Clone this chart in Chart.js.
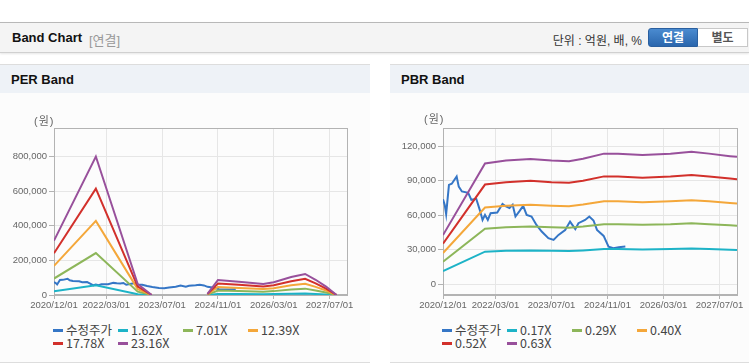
<!DOCTYPE html>
<html>
<head>
<meta charset="utf-8">
<script src="https://cdn.jsdelivr.net/npm/chart.js@4.4.0/dist/chart.umd.min.js"></script>
<style>
body{margin:0;width:749px;height:364px;position:relative;background:#fff;overflow:hidden;font-family:"Liberation Sans","Noto Sans CJK KR",sans-serif;color:#333}
.hdr{position:absolute;left:0;top:22px;width:749px;height:29px;background:#f4f4f4;border-top:1px solid #b8b8b8;border-bottom:1px solid #d0d0d0;box-shadow:0 1px 2px rgba(0,0,0,.10)}
.hdr .t{position:absolute;left:12px;top:7px;font-size:13px;font-weight:bold;color:#111}
.hdr .s{position:absolute;left:89px;top:7px;font-size:13px;color:#999}
.hdr .u{position:absolute;right:107px;top:8px;font-size:12px;color:#333}
.btn{position:absolute;top:5px;height:19px;width:50px;font-size:12px;font-weight:bold;text-align:center;line-height:19px;box-sizing:border-box}
.b1{left:648px;background:linear-gradient(#4a8bd0,#2a66ad);color:#fff;border:1px solid #2a5f9f;border-radius:3px 0 0 3px}
.b2{left:698px;width:50px;background:#fff;color:#555;border:1px solid #c8c8c8;border-left:none}
.panel{position:absolute;top:64px;height:297px;border-top:1px solid #ddd;border-bottom:1px solid #ddd;background:#fcfcfc}
.panel .bar{height:28px;background:#eef2f7;font-size:13px;font-weight:bold;color:#111;line-height:29px;padding-left:11px}
.unit{position:absolute;font-size:11px;color:#666;z-index:2;letter-spacing:1px}
canvas{position:absolute}
.lg{position:absolute;width:270px;height:30px}
.li{position:absolute;font-size:12.5px;color:#444;white-space:nowrap;line-height:14px;font-family:"Noto Sans CJK KR","Liberation Sans",sans-serif}
.li i{display:inline-block;width:10px;height:3px;margin-right:3px;vertical-align:middle;position:relative;top:-1px}
</style>
</head>
<body>
<div class="hdr">
  <span class="t">Band Chart</span><span class="s">[연결]</span>
  <span class="u">단위 : 억원, 배, %</span>
  <div class="btn b1">연결</div><div class="btn b2">별도</div>
</div>
<div class="panel" style="left:0;width:370px"><div class="bar">PER Band</div></div>
<div class="panel" style="left:390px;width:359px"><div class="bar">PBR Band</div></div>
<canvas id="perChart" width="370" height="225" style="left:0;top:92px"></canvas>
<canvas id="pbrChart" width="359" height="225" style="left:390px;top:92px"></canvas>
<div class="unit" style="left:34px;top:112px">(원)</div>
<div class="unit" style="left:424px;top:110px">(원)</div>
<div class="lg" id="perLegend" style="left:53px;top:323px"></div>
<div class="lg" id="pbrLegend" style="left:442px;top:323px"></div>
<script>
// x axis
const xTickLabels = ['2020/12/01','2022/03/01','2023/07/01','2024/11/01','2026/03/01','2027/07/01']
const xFirst = '2020/12/01'
const xLast = '2027/12/01'

// adjusted price (수정주가)
const priceDates = ['2020/12/01','2020/12/16','2020/12/28','2021/01/22','2021/02/16','2021/03/28','2021/04/16','2021/05/13',
  '2021/07/07','2021/08/04','2021/09/16','2021/10/16','2021/11/10','2021/12/01','2021/12/25','2022/01/19','2022/03/16',
  '2022/05/01','2022/06/01','2022/07/01','2022/07/28','2022/08/22','2022/09/25','2022/10/28','2022/11/28',
  '2023/01/10','2023/02/22','2023/04/07','2023/06/04','2023/07/19','2023/09/01','2023/10/28','2023/12/10',
  '2024/01/25','2024/02/22','2024/04/19','2024/05/25','2024/07/01','2024/08/01','2024/09/28','2024/11/10',
  '2024/12/22','2025/02/07','2025/04/04']
const priceValues = [74000,69000,61000,86500,87500,93800,85000,80800,
  79600,73500,74400,64800,56000,60400,56000,61900,62500,
  70000,67700,66400,69200,59000,63500,68300,60400,
  59000,51700,45900,40100,38600,43000,47300,54600,
  48000,53200,56000,59000,55500,47300,42100,32800,
  31400,32200,32800]

// PER band
const perNames = ['수정주가','1.62X','7.01X','12.39X','17.78X','23.16X']
const perBandDates = ['2020/12/01','2021/12/01','2022/12/01','2023/04/01','2023/05/01',
  '2024/08/01','2024/11/01','2025/05/01','2025/12/01','2026/03/01','2026/08/01','2026/12/01','2027/03/01','2027/06/01','2027/09/01']
const per162 = [22000,56000,4500,0,null, 500,6100,5300,4500,5200,7300,8500,6200,3400,0]
const per701 = [95100,242100,19300,0,null, 2100,26300,23100,19300,22400,31500,36800,26600,14700,0]
const per1239 = [168000,428000,34100,0,null, 3700,46500,40900,34100,39600,55800,65000,47100,26000,0]
const per1778 = [241100,614100,48900,0,null, 5300,66700,58700,48900,56900,80000,93300,67600,37300,0]
const per2316 = [314000,800000,63700,0,null, 6900,86900,76400,63700,74100,104200,121600,88000,48600,0]
const perYTicks = [0,200000,400000,600000,800000]

// PBR band
const pbrNames = ['수정주가','0.17X','0.29X','0.40X','0.52X','0.63X']
const pbrBandDates = ['2020/12/01','2021/12/01','2022/06/01','2023/01/01','2023/07/01','2023/12/01','2024/04/01',
  '2024/10/01','2025/02/01','2025/09/01','2026/05/01','2026/11/01','2027/04/01','2027/10/01','2027/12/01']
const pbr017 = [11600,28400,29100,29400,29100,28900,29500,30700,30700,30300,30700,31100,30700,30100,29900]
const pbr029 = [19700,48400,49600,50200,49600,49300,50300,52300,52300,51800,52300,53100,52300,51300,51000]
const pbr040 = [27200,66800,68400,69200,68400,68000,69400,72200,72200,71400,72200,73200,72200,70800,70400]
const pbr052 = [35400,86800,88900,90000,88900,88400,90200,93900,93900,92800,93900,95200,93900,92000,91500]
const pbr063 = [42800,105200,107700,109000,107700,107100,109300,113700,113700,112500,113700,115300,113700,111500,110900]
const pbrYTicks = [0,30000,60000,90000,120000]

const colors = ['#3576c6','#1db3c7','#8db65a','#f4a73a','#d2302b','#98509b']
const tickFont = {family: '"Liberation Sans", "Noto Sans CJK KR", sans-serif', size: 9.5}

const monthIndex = d => {
    const p = d.split('/')
    return (+p[0] - 2020) * 12 + (+p[1] - 12) + (+p[2] - 1) / 30
}
const pts = (dates, vals) => dates.map((d, i) => ({x: monthIndex(d), y: vals[i]}))

// box around plot area
const frame = {
    id: 'frame',
    beforeDatasetsDraw(chart) {
        const a = chart.chartArea, ctx = chart.ctx
        ctx.save()
        ctx.strokeStyle = '#b3b3b3'
        ctx.lineWidth = 1
        ctx.strokeRect(Math.round(a.left) + 0.5, Math.round(a.top) + 0.5, Math.round(a.right) - Math.round(a.left), Math.round(a.bottom) - Math.round(a.top) - 1)
        ctx.restore()
    }
}

const makeChart = (id, names, series, yTicks, yMin, yMax, yWidth, padRight) => {
    const datasets = series.map((s, i) => ({
        label: names[i],
        data: pts(s.dates, s.values),
        borderColor: colors[i],
        backgroundColor: colors[i],
        borderWidth: 2,
        pointRadius: 0,
        tension: 0,
        order: -i,
    }))
    return new Chart(document.getElementById(id), {
        type: 'line',
        data: {datasets},
        plugins: [frame],
        options: {
            responsive: false,
            animation: false,
            events: [],
            layout: {padding: {top: 36, right: padRight, bottom: 0, left: 0}},
            plugins: {legend: {display: false}, tooltip: {enabled: false}},
            scales: {
                x: {
                    type: 'linear',
                    min: monthIndex(xFirst),
                    max: monthIndex(xLast),
                    afterBuildTicks: s => { s.ticks = xTickLabels.map(l => ({value: monthIndex(l)})) },
                    afterFit: s => { s.height = 22 },
                    ticks: {
                        font: tickFont, color: '#666', padding: 1, maxRotation: 0, autoSkip: false,
                        callback: v => xTickLabels.find(l => monthIndex(l) === v)
                    },
                    grid: {color: '#e6e6e6', tickColor: '#b3b3b3', tickLength: 4},
                    border: {color: '#b3b3b3'}
                },
                y: {
                    min: yMin,
                    max: yMax,
                    afterBuildTicks: s => { s.ticks = yTicks.map(v => ({value: v})) },
                    afterFit: s => { s.width = yWidth },
                    ticks: {font: tickFont, color: '#666', padding: 2, callback: v => v.toLocaleString('en-US')},
                    grid: {color: '#e6e6e6', tickColor: '#b3b3b3', tickLength: 5},
                    border: {color: '#b3b3b3'}
                }
            }
        }
    })
}

const htmlLegend = (chart, el) => {
    chart.data.datasets.forEach((ds, i) => {
        const item = document.createElement('div')
        item.className = 'li'
        item.style.left = (i % 4) * 65 + 'px'
        item.style.top = Math.floor(i / 4) * 13 + 'px'
        item.innerHTML = '<i style="background:' + ds.borderColor + '"></i>' + ds.label
        el.appendChild(item)
    })
}

const perChart = makeChart('perChart', perNames, [
    {dates: priceDates, values: priceValues},
    {dates: perBandDates, values: per162},
    {dates: perBandDates, values: per701},
    {dates: perBandDates, values: per1239},
    {dates: perBandDates, values: per1778},
    {dates: perBandDates, values: per2316},
], perYTicks, 0, 965000, 54, 23)

const pbrChart = makeChart('pbrChart', pbrNames, [
    {dates: priceDates, values: priceValues},
    {dates: pbrBandDates, values: pbr017},
    {dates: pbrBandDates, values: pbr029},
    {dates: pbrBandDates, values: pbr040},
    {dates: pbrBandDates, values: pbr052},
    {dates: pbrBandDates, values: pbr063},
], pbrYTicks, -9300, 136000, 53, 12)

htmlLegend(perChart, document.getElementById('perLegend'))
htmlLegend(pbrChart, document.getElementById('pbrLegend'))
</script>
</body>
</html>
